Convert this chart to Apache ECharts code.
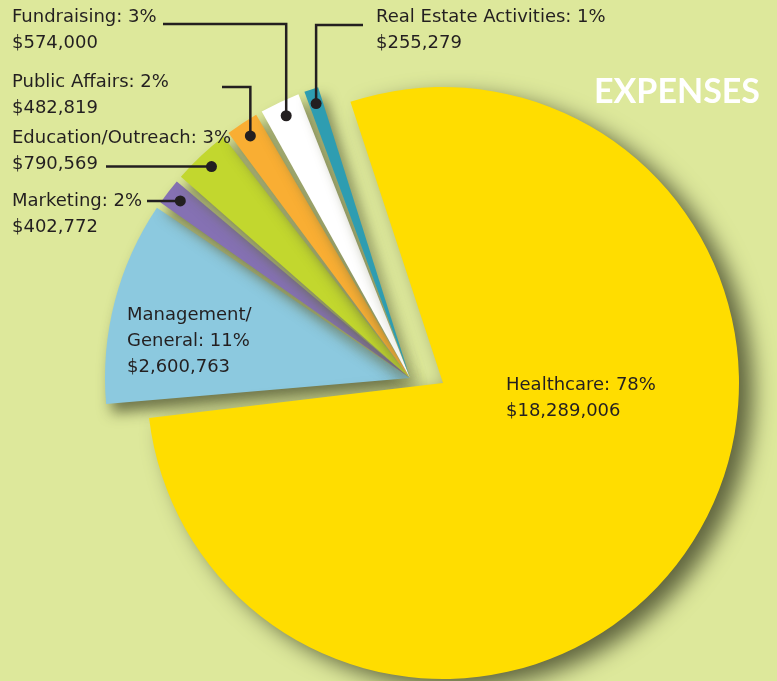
<!DOCTYPE html>
<html>
<head>
<meta charset="utf-8">
<script src="https://cdn.jsdelivr.net/npm/echarts@6/dist/echarts.min.js"></script>
<style>
  html, body { margin: 0; padding: 0; background: #dde89b; }
  #chart { width: 777px; height: 681px; }
</style>
</head>
<body>
<div id="chart"></div>
<script>
// data, clockwise from the left edge of Management/General
const categories = ['Management/\nGeneral', 'Marketing', 'Education/Outreach', 'Public Affairs', 'Fundraising', 'Real Estate Activities', 'Healthcare']
const amounts = [2600763, 402772, 790569, 482819, 574000, 255279, 18289006]
const percents = [11, 2, 3, 2, 3, 1, 78]
const colors = ['#8cc9df', '#8571b3', '#c2d72e', '#f9ae33', '#ffffff', '#2e9db1', '#ffdd00']

// layout
const smallStart = 185.5
const bigStart = 186.8
const smallCenter = [410, 378]
const smallRadius = 305
const bigCenter = [443, 383]
const bigRadius = 296
const dotRadius = 290
const bigIndex = categories.indexOf('Healthcare')

// label boxes (top-left) and where the leader line stops next to the text
const labelX = [127, 12, 12, 12, 12, 376, 506]
const labelY = [302, 188, 125, 69, 4, 4, 372]
const lineEnd = [null, [147, null], [106, null], [222, 87], [163, 24], [363, 25], null]

const total = amounts.reduce((a, b) => a + b, 0)

const midAngle = (i) => {
  let before = 0
  for (let k = 0; k < i; k++) before += amounts[k]
  return (smallStart - ((before + amounts[i] / 2) / total) * 360) * Math.PI / 180
}

const money = (v) => '$' + v.toLocaleString('en-US')

const chart = echarts.init(document.getElementById('chart'))

const labelStyle = {
  show: true,
  position: 'inside',
  color: '#231f20',
  fontFamily: 'DejaVu Sans',
  fontSize: 18,
  lineHeight: 26,
  width: 320,
  overflow: 'none',
  align: 'left',
  formatter: (p) => categories[p.dataIndex] + ': ' + percents[p.dataIndex] + '%\n' + money(amounts[p.dataIndex])
}

const layoutLabel = (params) => ({
  x: labelX[params.dataIndex],
  y: labelY[params.dataIndex],
  align: 'left',
  verticalAlign: 'top',
  hideOverlap: false
})

const makeData = (visible) => categories.map((name, i) => ({
  name: name,
  value: amounts[i],
  itemStyle: { color: colors[i], opacity: visible(i) ? 1 : 0 },
  label: { show: visible(i) }
}))

// leader lines and dots, from the slices' angles
const graphics = []
lineEnd.forEach((end, i) => {
  if (!end) return
  const a = midAngle(i)
  const dot = [smallCenter[0] + dotRadius * Math.cos(a), smallCenter[1] - dotRadius * Math.sin(a)]
  let points
  if (end[1] === null) {
    points = [dot, [end[0], dot[1]]]
  } else {
    points = [dot, [dot[0], end[1]], [end[0], end[1]]]
  }
  graphics.push({
    type: 'polyline',
    z: 100,
    shape: { points: points },
    style: { stroke: '#231f20', lineWidth: 2.5, fill: null }
  })
  graphics.push({
    type: 'circle',
    z: 101,
    shape: { cx: dot[0], cy: dot[1], r: 5.5 },
    style: { fill: '#231f20' }
  })
})

const option = {
  backgroundColor: '#dde89b',
  animation: false,
  title: {
    text: 'EXPENSES',
    right: 17,
    top: 75,
    padding: 0,
    textStyle: {
      color: '#ffffff',
      fontFamily: 'Lato',
      fontWeight: 'bold',
      fontSize: 34
    }
  },
  graphic: graphics,
  series: [
    {
      name: 'small',
      type: 'pie',
      center: smallCenter,
      radius: [0, smallRadius],
      startAngle: smallStart,
      clockwise: true,
      padAngle: 1.2,
      silent: true,
      label: labelStyle,
      labelLine: { show: false },
      labelLayout: layoutLabel,
      itemStyle: {
        shadowBlur: 14,
        shadowOffsetX: 6,
        shadowOffsetY: 9,
        shadowColor: 'rgba(100, 105, 65, 0.9)'
      },
      data: makeData((i) => i !== bigIndex)
    },
    {
      name: 'big',
      type: 'pie',
      center: bigCenter,
      radius: [0, bigRadius],
      startAngle: bigStart,
      clockwise: true,
      silent: true,
      label: labelStyle,
      labelLine: { show: false },
      labelLayout: layoutLabel,
      itemStyle: {
        shadowBlur: 22,
        shadowOffsetX: 14,
        shadowOffsetY: 9,
        shadowColor: 'rgba(95, 100, 62, 1)'
      },
      data: makeData((i) => i === bigIndex)
    }
  ]
}

option && chart.setOption(option)
</script>
</body>
</html>
